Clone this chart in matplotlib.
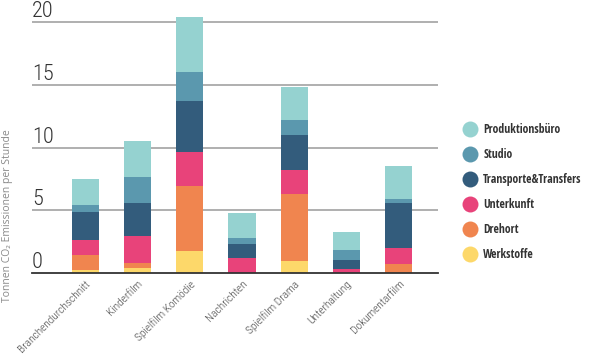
import matplotlib
matplotlib.use("Agg")
import matplotlib.pyplot as plt
from matplotlib.lines import Line2D
import numpy as np

categories = ["Branchendurchschnitt", "Kinderfilm", "Spielfilm Komödie", "Nachrichten",
              "Spielfilm Drama", "Unterhaltung", "Dokumentarfilm"]
werkstoffe = [0.29, 0.45, 1.80, 0.00, 0.96, 0.00, 0.00]
drehort = [1.17, 0.37, 5.17, 0.00, 5.33, 0.00, 0.72]
unterkunft = [1.19, 2.15, 2.71, 1.25, 1.91, 0.34, 1.27]
transporte = [2.23, 2.65, 4.06, 1.11, 2.84, 0.72, 3.63]
studio = [0.56, 2.02, 2.31, 0.48, 1.19, 0.80, 0.27]
produktionsbuero = [2.05, 2.89, 4.33, 1.94, 2.59, 1.43, 2.65]
y_ticks = [0, 5, 10, 15, 20]

series = [
    ("Werkstoffe", werkstoffe, "#FDD86A"),
    ("Drehort", drehort, "#F0854F"),
    ("Unterkunft", unterkunft, "#E8437A"),
    ("Transporte&Transfers", transporte, "#335C7C"),
    ("Studio", studio, "#5B98AE"),
    ("Produktionsbüro", produktionsbuero, "#95D2D0"),
]

thin_fam = ["Roboto Condensed", "DejaVu Sans"]
bold_fam = ["Open Sans Condensed", "DejaVu Sans"]

W, H = 590, 354
fig = plt.figure(figsize=(W / 100, H / 100), dpi=100)
left_px, right_px = 32, 438
base_px = 273.3
ppu = (273.3 - 22) / 20.0
ytop = 21.0
top_px = base_px - ytop * ppu
ax = fig.add_axes([left_px / W, 1 - base_px / H, (right_px - left_px) / W, (base_px - top_px) / H])

x = np.arange(len(categories))
bottom = np.zeros(len(categories))
for name, vals, col in series:
    v = np.array(vals)
    ax.bar(x, v, bottom=bottom, width=0.52, color=col, zorder=3, linewidth=0)
    bottom += v

ax.set_xlim(-1.02, 6.75)
ax.set_ylim(0, ytop)
ax.set_yticks(y_ticks[1:])
ax.set_yticklabels([])
ax.tick_params(axis="y", length=0)
ax.grid(axis="y", color="#9a9a9a", linewidth=1.1, zorder=1)
for s in ["top", "right", "left"]:
    ax.spines[s].set_visible(False)
ax.spines["bottom"].set_color("#333333")
ax.spines["bottom"].set_linewidth(1.3)
ax.spines["bottom"].set_zorder(4)

for t in y_ticks:
    ax.text(0.0, t, str(t), transform=ax.get_yaxis_transform(), ha="left", va="bottom",
            fontsize=16, color="#333333", family=thin_fam, weight="light")

ax.set_xticks(x)
ax.set_xticklabels(categories, rotation=45, ha="right", va="top", rotation_mode="anchor",
                   fontsize=8.2, color="#444444", family=thin_fam, weight="light")
ax.tick_params(axis="x", length=0, pad=4)

fig.text(8 / W, 1 - 216 / H, "Tonnen CO₂ Emissionen per Stunde", rotation=90, ha="center", va="center",
         fontsize=7.5, color="#8a8a8a", family=["Open Sans", "DejaVu Sans"])

handles = [Line2D([], [], linestyle="none", marker="o", markersize=11.5, markerfacecolor=c,
                  markeredgecolor="none") for _, _, c in series[::-1]]
labels = [n for n, _, _ in series[::-1]]
fig.legend(handles, labels, loc="upper left", bbox_to_anchor=(463 / W, 1 - 123 / H),
           frameon=False, handlelength=1.2, handletextpad=0.5, labelspacing=1.02,
           prop={"family": bold_fam, "size": 8.5, "weight": "bold"}, labelcolor="#333333",
           borderaxespad=0, borderpad=0)

fig.savefig("out.png", dpi=100)
